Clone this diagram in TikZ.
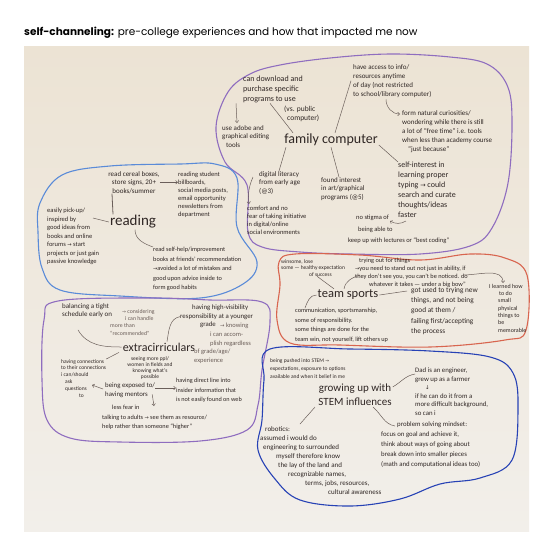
\documentclass[tikz,border=0pt]{standalone}
\usepackage{fontspec}
\setmainfont{Carlito}
\newfontfamily\titlefont{Poppins}
\newfontfamily\arrowfont{DejaVu Sans}
\usetikzlibrary{arrows.meta}
\definecolor{ink}{HTML}{2F2624}
\definecolor{softink}{HTML}{6A5D58}
\definecolor{wire}{HTML}{6B5F5A}
\definecolor{lilac}{HTML}{8F6DBF}
\definecolor{sky}{HTML}{5A8BD8}
\definecolor{coral}{HTML}{D8654F}
\definecolor{navy}{HTML}{2742B5}
\definecolor{paperA}{HTML}{ECE3D4}
\definecolor{paperB}{HTML}{F2EFEA}
\newcommand\hsz[2]{\fontsize{#1}{#2}\selectfont}
\newcommand\myra{{\arrowfont\scalebox{0.8}{→}}}
\newcommand\myda{{\arrowfont\scalebox{0.8}{↓}}}
\tikzset{
  note/.style={text=ink, align=left, inner sep=0pt, anchor=north west},
  hub/.style={text=ink, inner sep=1pt},
  link/.style={draw=wire, line width=0.5pt},
  linkarrow/.style={link, -{Straight Barb[length=2pt,width=3.5pt]}},
  blob/.style={line width=1.1pt, line join=round},
}
\begin{document}
\begin{tikzpicture}[x=1pt,y=-1pt]
\useasboundingbox (0,0) rectangle (553,539);
\fill[white] (0,0) rectangle (553,539);

% title
\node[anchor=west, inner sep=0pt, font=\titlefont\hsz{10.5}{12}, text=black] (title) at (24,33)
  {\textbf{self-channeling:} pre-college experiences and how that impacted me now};

% whiteboard
\shade[top color=paperA, bottom color=paperB] (24,46) rectangle (529,531);

% ---------- outlines ----------
\draw[lilac, blob] plot[smooth cycle, tension=0.6] coordinates {
  (280,65) (330,58) (390,54) (450,57) (487,64) (507,85) (512,120) (508,183)
  (492,228) (470,246) (420,254) (350,254) (300,252) (262,247) (248,232)
  (247,185) (225,162) (216,127) (228,92) (250,74)};
\draw[sky, blob] plot[smooth cycle, tension=0.6] coordinates {
  (40,203) (62,175) (110,166) (180,164) (215,164) (237,178) (237,227)
  (257,262) (243,284) (200,298) (120,296) (60,290) (42,268) (38,232)};
\draw[coral, blob] plot[smooth cycle, tension=0.6] coordinates {
  (279,262) (295,254) (360,255) (420,260) (470,254) (505,258) (527,275)
  (526,330) (505,340) (430,347) (340,345) (290,343) (277,320) (280,285)};
\draw[lilac, blob] plot[smooth cycle, tension=0.6] coordinates {
  (58,301) (150,298) (210,300) (262,302) (270,322) (262,370) (258,405)
  (247,430) (200,441) (120,442) (70,438) (47,420) (42,380) (44,320)};
\draw[navy, blob] plot[smooth cycle, tension=0.6] coordinates {
  (270,349) (350,349) (430,351) (490,357) (513,373) (518,407) (512,460)
  (480,478) (440,484) (400,499) (350,506) (300,500) (275,479) (258,450)
  (262,420) (264,380)};

% ---------- family computer ----------
\node[hub, font=\hsz{14}{16}] (fc) at (331,140) {family computer};
\node[note, font=\hsz{8}{10}] (dl) at (243,76) {can download and\\purchase specific\\programs to use};
\node[note, font=\hsz{7.5}{8.5}] (vs) at (284,106) {(vs. public\\\hspace*{3pt}computer)};
\node[note, font=\hsz{7}{8.5}] (ad) at (222,125) {use adobe and\\graphical editing\\\hspace*{4pt}tools};
\node[note, font=\hsz{7}{9}] (acc) at (353,64) {have access to info/\\resources anytime\\of day (not restricted\\to school/library computer)};
\node[note, font=\hsz{7}{9}] (cur) at (402,110) {form natural curiosities/\\wondering while there is still\\a lot of “free time” i.e. tools\\when less than academy course\\\hspace*{6pt}“just because”};
\node[note, font=\hsz{8}{10}] (typ) at (398,162) {self-interest in\\learning proper\\typing \myra\ could\\search and curate\\thoughts/ideas\\faster};
\node[note, font=\hsz{7}{8.5}] (lit) at (259,171) {digital literacy\\from early age\\(@3)};
\node[note, font=\hsz{6.5}{8}] (cmf) at (247,206) {comfort and no\\fear of taking initiative\\in digital/online\\social environments};
\node[note, font=\hsz{7}{8.5}] (art) at (321,177) {found interest\\in art/graphical\\programs (@5)};
\node[note, font=\hsz{6.5}{11.5}] (stg) at (348,215) {\hspace*{8pt}no stigma of\\\hspace*{10pt}being able to\\keep up with lectures or “best coding”};

\draw[link] ([xshift=-38pt]fc.north) -- ([xshift=27pt]dl.south west);
\draw[link] ([xshift=4pt]fc.north) -- ([xshift=-2pt]acc.west);
\draw[link] ([yshift=-5pt]fc.east) -- (typ.north west);
\draw[link] ([xshift=-45pt]fc.south) -- ([xshift=20pt]lit.north west);
\draw[link] (fc.south) -- ([xshift=18pt]art.north west);
\draw[linkarrow] ([xshift=-7pt]dl.south west) -- ([xshift=15pt,yshift=2pt]ad.north west);
\draw[linkarrow] ([xshift=33pt,yshift=-2pt]acc.south west) to[out=-90,in=180] ([xshift=-2pt,yshift=-4pt]cur.north west);
\draw[linkarrow] ([xshift=8pt,yshift=-3pt]typ.south west) to[bend left=30] ([xshift=42pt,yshift=-6pt]stg.north west);
\draw[linkarrow] ([xshift=-6pt,yshift=-6pt]lit.north west) to[bend right=15] ([xshift=2pt,yshift=2pt]cmf.north west);

% ---------- reading ----------
\node[hub, font=\hsz{15}{16}] (rd) at (133,222) {reading};
\node[note, align=center, anchor=north, font=\hsz{7}{8.5}] (cer) at (134,171) {read cereal boxes,\\store signs, 20+\\books/summer};
\node[note, font=\hsz{6.5}{8}] (stu) at (178,172) {reading student\\billboards,\\social media posts,\\email opportunity\\newsletters from\\department};
\node[note, font=\hsz{6.5}{8.5}] (pik) at (47,208) {easily pick-up/\\inspired by\\good ideas from\\books and online\\forums \myra\ start\\projects or just gain\\passive knowledge};
\node[note, font=\hsz{6.3}{9.5}] (hlp) at (153,247) {read self-help/improvement\\books at friends' recommendation\\\myra avoided a lot of mistakes and\\good upon advice inside to\\form good habits};

\draw[linkarrow] (cer.east) -- (cer.east -| stu.west);
\draw[link, line width=0.8pt] ([xshift=-20pt]rd.north) -- ([xshift=-22pt]cer.south);
\draw[link] ([xshift=46pt,yshift=-10pt]pik.north west) -- (rd.west);
\draw[link] ([xshift=2pt]rd.south) to[out=-90,in=160] (hlp.north west);

% ---------- team sports ----------
\node[hub, font=\hsz{12.5}{14}] (ts) at (348,295) {team sports};
\node[note, font=\hsz{5.5}{6.5}] (win) at (281,259) {winsome, lose\\some — healthy expectation\\\hspace*{28pt}of success};
\node[note, font=\hsz{6.3}{8}] (try) at (355,258) {\hspace*{4pt}trying out for things\\\myra you need to stand out not just in ability, if\\they don't see you, you can't be noticed. do\\\hspace*{14pt}whatever it takes — under a big bow”};
\node[note, font=\hsz{6.3}{9.5}] (com) at (295,308) {communication, sportsmanship,\\some of responsibility.\\some things are done for the\\team win, not yourself, lift others up};
\node[note, font=\hsz{7.3}{10.3}] (got) at (411,287) {got used to trying new\\things, and not being\\good at them /\\failing first/accepting\\the process};
\node[note, font=\hsz{6}{7.3}] (lrn) at (489,284) {I learned how\\\hspace*{10pt}to do\\\hspace*{9pt}small\\\hspace*{9pt}physical\\\hspace*{9pt}things to\\\hspace*{9pt}be\\\hspace*{9pt}memorable};

\draw[link] ([xshift=-14pt]ts.north) -- ([xshift=36pt]win.south west);
\draw[link] ([xshift=-4pt]ts.north) to[out=80,in=200] ([xshift=5pt,yshift=-2pt]try.west);
\draw[link] (ts.west) to[out=180,in=70] ([xshift=10pt]com.north west);
\draw[link] (ts.east) -- ([xshift=-4pt,yshift=-4pt]got.north west);
\draw[linkarrow] ([xshift=-4pt,yshift=-2pt]try.east) to[out=0,in=90] ([xshift=14pt,yshift=1pt]lrn.north west);

% ---------- extracurriculars ----------
\node[hub, font=\hsz{12}{14}] (ex) at (159,347) {extracirriculars};
\node[note, font=\hsz{7}{8.5}] (bal) at (62,303) {balancing a tight\\schedule early on};
\node[note, text=softink, font=\hsz{5.8}{7.3}] (cons) at (110,309) {\hspace*{12pt}\myra\ considering\\\hspace*{15pt}i can handle\\more than\\“recommended”};
\node[note, font=\hsz{6.8}{8.5}] (vis) at (180,305) {\hspace*{12pt}having high-visibility\\responsibility at a younger\\\hspace*{20pt}grade};
\node[note, text=softink, font=\hsz{6.5}{8.7}] (kno) at (194,323) {\hspace*{26pt}\myra\ knowing\\\hspace*{16pt}i can accom-\\\hspace*{16pt}plish regardless\\of grade/age/\\experience};
\node[note, font=\hsz{5.5}{6.8}] (cnx) at (61,359) {having connections\\to their connections\\i can/should\\\hspace*{4pt}ask\\\hspace*{4pt}questions\\\hspace*{18pt}to};
\node[note, font=\hsz{5.5}{6.2}, align=center, anchor=north] (see) at (150,356) {seeing more ppl/\\women in fields and\\knowing what's\\possible};
\node[note, font=\hsz{6.8}{9}] (exp) at (105,383) {being exposed to/\\having mentors};
\node[note, font=\hsz{6.2}{9.5}] (dir) at (176,378) {having direct line into\\insider information that\\is not easily found on web};
\node[note, font=\hsz{6.3}{9.5}] (fear) at (102,405) {\hspace*{10pt}less fear in\\talking to adults \myra\ see them as resource/\\help rather than someone “higher”};

\draw[link] ([xshift=16pt,yshift=-12pt]bal.south west) to[out=-60,in=180] (ex.west);
\draw[link] ([xshift=8pt]ex.north) to[out=80,in=190] (vis.west);
\draw[link] ([xshift=-40pt]ex.south) -- (cnx.north east);
\draw[linkarrow] ([yshift=-5pt]exp.north east) -- ([yshift=-5pt]exp.north east -| dir.west);
\draw[linkarrow] ([xshift=-2pt,yshift=-6pt]exp.north west) -- ([xshift=31pt,yshift=-26pt]cnx.north west);
\draw[linkarrow] ([xshift=-3pt,yshift=4pt]exp.south east) -- ([xshift=52pt,yshift=-1pt]fear.north west);

% ---------- STEM ----------
\node[hub, font=\hsz{11}{14}, align=center] (st) at (355,395) {growing up with\\STEM influences};
\node[note, font=\hsz{5.5}{8.3}] (push) at (270,358) {being pushed into STEM \myra\\expectations, exposure to options\\available and when it belief in me};
\node[note, font=\hsz{6.8}{8.5}] (dad) at (415,368) {Dad is an engineer,\\grew up as a farmer\\\hspace*{10pt}\myda\\if he can do it from a\\more difficult background,\\so can i};
\node[note, font=\hsz{6.8}{9.8}] (prb) at (381,422) {\hspace*{16pt}problem solving mindset:\\focus on goal and achieve it,\\think about ways of going about\\break down into smaller pieces\\(math and computational ideas too)};
\node[note, font=\hsz{7}{9}] (rob) at (260,426) {\hspace*{5pt}robotics:\\assumed i would do\\\hspace*{3pt}engineering to surrounded\\\hspace*{16pt}myself therefore know\\\hspace*{18pt}the lay of the land and\\\hspace*{28pt}recognizable names,\\\hspace*{45pt}terms, jobs, resources,\\\hspace*{68pt}cultural awareness};

\draw[link] ([yshift=-4pt]st.north east) to[out=30,in=190] ([yshift=-6pt]dad.north west);
\draw[link] ([xshift=18pt]st.south) to[out=-40,in=170] ([xshift=14pt,yshift=-4pt]prb.north west);
\draw[link] ([xshift=-40pt]st.south) -- ([xshift=40pt,yshift=2pt]rob.north west);
\end{tikzpicture}
\end{document}
